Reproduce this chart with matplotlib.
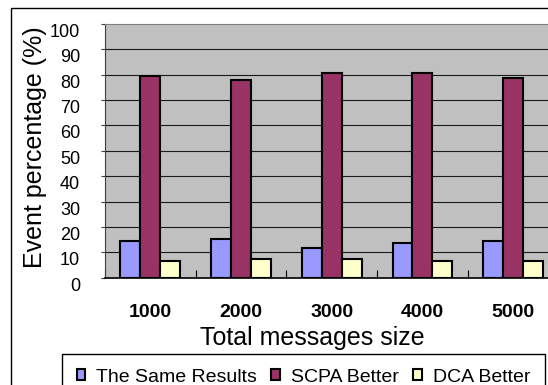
import numpy as np
import matplotlib
matplotlib.use('Agg')
import matplotlib.pyplot as plt
from matplotlib.patches import Rectangle

plt.rcParams['font.family'] = ['Liberation Sans', 'DejaVu Sans']

sizes = ['1000', '2000', '3000', '4000', '5000']
same_results = [14.5, 15.1, 11.8, 13.7, 14.5]
scpa_better = [79.6, 78.1, 80.6, 80.6, 78.8]
dca_better = [6.4, 7.4, 7.4, 6.4, 6.4]

fig = plt.figure(figsize=(5.48, 3.85), dpi=100)
ax = fig.add_axes([105 / 548, 1 - 277.7 / 385, 453.5 / 548, 253.7 / 385])
ax.set_facecolor('#c0c0c0')

x = np.arange(len(sizes))
w = 0.22
b1 = ax.bar(x - w, same_results, w, color='#9999ff', edgecolor='black', linewidth=1.5, label='The Same Results', zorder=3)
b2 = ax.bar(x, scpa_better, w, color='#993366', edgecolor='black', linewidth=1.5, label='SCPA Better', zorder=3)
b3 = ax.bar(x + w, dca_better, w, color='#ffffcc', edgecolor='black', linewidth=1.5, label='DCA Better', zorder=3)

ax.set_xlim(-0.5, len(sizes) - 0.5)
ax.set_ylim(0, 100)

# gridlines
for v in range(10, 100, 10):
    ax.axhline(v, color='#1a1a1a', linewidth=0.8, zorder=1)

ax.set_yticks(range(0, 101, 10))
ax.set_yticklabels([str(v) for v in range(0, 101, 10)], fontsize=13, va='top')
ax.tick_params(axis='y', length=3, direction='out', pad=15, color='#404040')

# category boundaries as ticks, labels on centers
ax.set_xticks(np.arange(len(sizes) + 1) - 0.5)
ax.set_xticklabels([])
ax.tick_params(axis='x', which='major', length=6, direction='in', color='black')
ax.set_xticks(x, minor=True)
ax.set_xticklabels(sizes, minor=True, fontsize=14, fontweight='bold')
ax.tick_params(axis='x', which='minor', length=0, pad=19)

ax.spines['top'].set_color('#808080')
ax.spines['right'].set_visible(False)
ax.spines['left'].set_color('#404040')
ax.spines['bottom'].set_color('black')
ax.spines['bottom'].set_linewidth(1.2)

ax.set_xlabel('Total messages size', fontsize=18)
ax.xaxis.set_label_coords(312 / 548, 1 - 326 / 385, transform=fig.transFigure)
ax.set_ylabel('Event percentage (%)', fontsize=18)
ax.yaxis.set_label_coords(47 / 548, 1 - 147 / 385, transform=fig.transFigure)

# outer chart border (cut off at right and bottom)
fig.patches.append(Rectangle((11 / 548, -0.1), 1.2, 1.1 - 8 / 385, transform=fig.transFigure,
                             fill=False, edgecolor='black', linewidth=1))

leg = fig.legend(handles=[b1, b2, b3], loc='upper left', bbox_to_anchor=(62 / 548, 1 - 354 / 385),
                 ncol=3, fontsize=14, frameon=True, fancybox=False, framealpha=1,
                 edgecolor='black', borderaxespad=0, borderpad=0.75,
                 handlelength=0.45, handleheight=0.45, handletextpad=0.55, columnspacing=0.75)
leg.get_frame().set_linewidth(1)

fig.savefig('out.png', dpi=100)
